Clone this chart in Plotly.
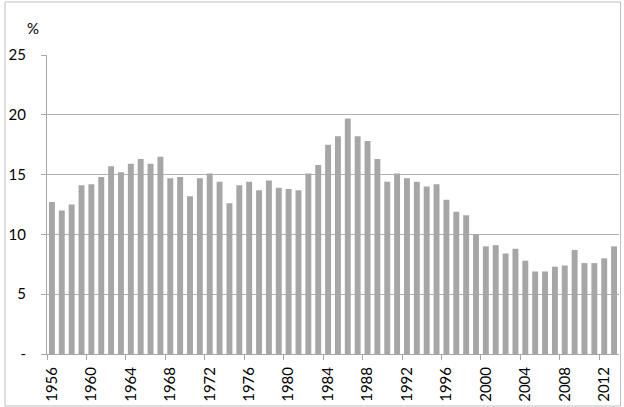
import plotly.graph_objects as go

years = list(range(1956, 2014))
values = [12.7, 12.0, 12.5, 14.1, 14.2, 14.8, 15.7, 15.2, 15.9, 16.3,
          15.9, 16.5, 14.7, 14.8, 13.2, 14.7, 15.1, 14.4, 12.6, 14.1,
          14.4, 13.7, 14.5, 13.9, 13.8, 13.7, 15.1, 15.8, 17.5, 18.2,
          19.7, 18.2, 17.8, 16.3, 14.4, 15.1, 14.7, 14.4, 14.0, 14.2,
          12.9, 11.9, 11.6, 10.0, 9.0, 9.1, 8.4, 8.8, 7.8, 6.9,
          6.9, 7.3, 7.4, 8.7, 7.6, 7.6, 8.0, 9.0]
x_labels = list(range(1956, 2014, 4))
y_ticks = [0, 5, 10, 15, 20, 25]
y_text = ["-", "5", "10", "15", "20", "25"]

W, H = 624, 407
L, R, T, B = 47, 5, 55, 53
pw, ph = W - L - R, H - T - B

fig = go.Figure()
fig.add_trace(go.Bar(x=years, y=values, width=0.6,
                     marker=dict(color="#a6a6a6", line=dict(width=0)),
                     hoverinfo="x+y"))
# invisible trace to drive tick overlay axis
fig.add_trace(go.Scatter(x=[years[0] - 0.5, years[-1] + 0.5], y=[0, 0],
                         xaxis="x2", mode="lines", line=dict(width=0),
                         hoverinfo="skip", showlegend=False))

font = "Lato, 'Open Sans', sans-serif"
fig.update_layout(
    width=W, height=H,
    margin=dict(l=L, r=R, t=T, b=B),
    paper_bgcolor="white", plot_bgcolor="white",
    showlegend=False, bargap=0.4,
    font=dict(family=font, size=15, color="#000000"),
    xaxis=dict(range=[years[0] - 0.5, years[-1] + 0.5],
               tickvals=x_labels, ticktext=[str(v) for v in x_labels],
               tickangle=-90, ticks="", showgrid=False, zeroline=False,
               showline=True, linecolor="#a6a6a6", linewidth=1,
               tickfont=dict(family=font, size=15), ticklabelstandoff=6),
    xaxis2=dict(range=[years[0] - 0.5, years[-1] + 0.5], overlaying="x",
                anchor="y", side="bottom",
                tickvals=[v - 0.5 for v in x_labels], ticks="outside",
                ticklen=5, tickcolor="#a6a6a6", showticklabels=False,
                showgrid=False, zeroline=False, showline=False),
    yaxis=dict(range=[0, 25], tickvals=y_ticks, ticktext=y_text,
               showgrid=True, gridcolor="#b0b0b0", gridwidth=1,
               zeroline=False, showline=True, linecolor="#a6a6a6",
               linewidth=1, ticks="outside", ticklen=5,
               tickcolor="#a6a6a6", ticklabelstandoff=12,
               tickfont=dict(family=font, size=15)),
)

fig.add_annotation(text="%", xref="paper", yref="paper",
                   x=(33 - L) / pw, y=(H - B - 28) / ph,
                   showarrow=False, xanchor="center", yanchor="middle",
                   font=dict(family=font, size=15, color="#000000"))

fig.add_shape(type="rect", xref="paper", yref="paper",
              x0=(5 - L) / pw, x1=(620.5 - L) / pw,
              y0=(H - B - 406) / ph, y1=(H - B - 2) / ph,
              line=dict(color="#bfbfbf", width=1), fillcolor="rgba(0,0,0,0)",
              layer="below")

fig.write_html("out.html",
               config={"displayModeBar": False},
               post_script="document.body.style.margin='0';"
                           "document.body.style.overflow='hidden';")
